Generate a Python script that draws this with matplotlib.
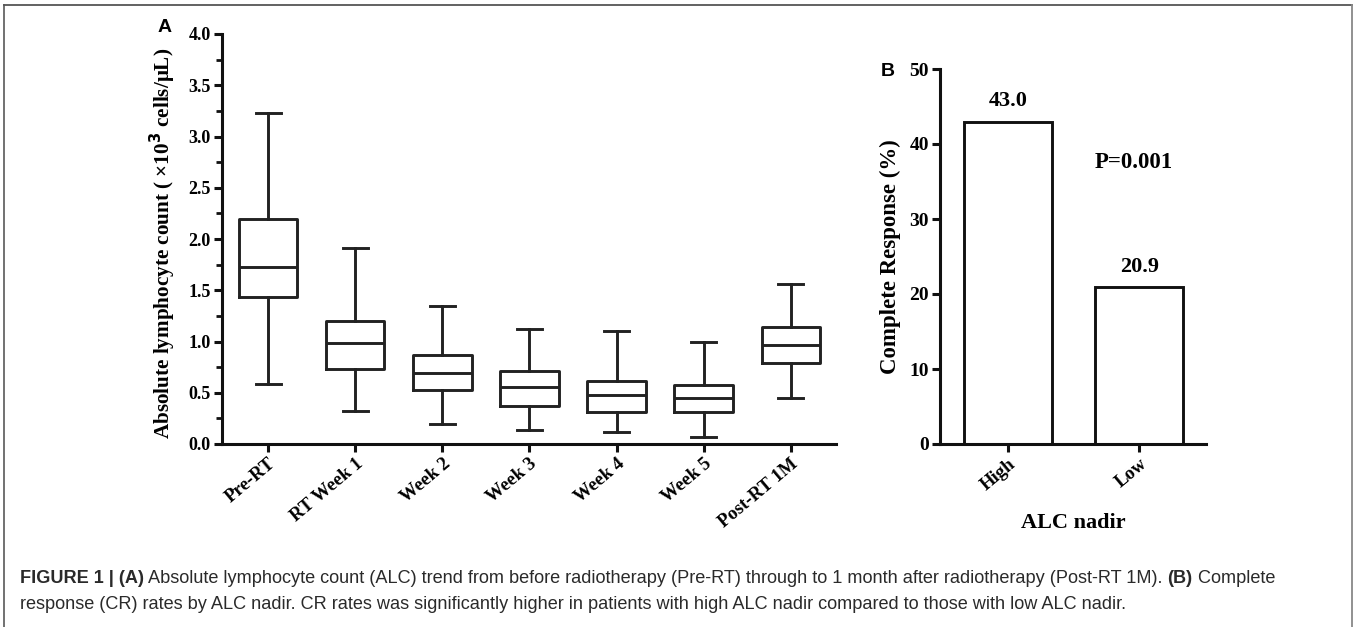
import matplotlib
matplotlib.use("Agg")
import matplotlib.pyplot as plt
from matplotlib.ticker import MultipleLocator

# ---- data ----
timepoints = ["Pre-RT", "RT Week 1", "Week 2", "Week 3", "Week 4", "Week 5", "Post-RT 1M"]
whislo = [0.585, 0.325, 0.195, 0.133, 0.115, 0.065, 0.445]
q1     = [1.43, 0.734, 0.526, 0.367, 0.313, 0.309, 0.793]
med    = [1.722, 0.988, 0.692, 0.556, 0.478, 0.445, 0.965]
q3     = [2.197, 1.199, 0.868, 0.708, 0.61, 0.575, 1.14]
whishi = [3.23, 1.914, 1.345, 1.124, 1.099, 0.991, 1.56]

nadir_groups = ["High", "Low"]
cr_rates = [43.0, 20.9]
p_text = "P=0.001"

W, H = 1359, 627
fig = plt.figure(figsize=(W / 100, H / 100), dpi=100)
serif = ["Liberation Serif", "DejaVu Serif"]
sans = ["Liberation Sans", "DejaVu Sans"]
lc = "#222222"
rot = 40

# ---- Panel A ----
axA = fig.add_axes([222 / W, 1 - 444 / H, (836 - 222) / W, (444 - 34) / H])
stats = []
for i in range(len(timepoints)):
    stats.append(dict(whislo=whislo[i], q1=q1[i], med=med[i], q3=q3[i],
                      whishi=whishi[i], fliers=[], label=timepoints[i]))
lw = 2.1
axA.bxp(stats, positions=range(len(timepoints)), widths=0.67, showfliers=False,
        boxprops=dict(color=lc, linewidth=lw),
        medianprops=dict(color=lc, linewidth=lw),
        whiskerprops=dict(color=lc, linewidth=lw),
        capprops=dict(color=lc, linewidth=lw), capwidths=0.29)
axA.set_xlim(-0.53, 6.52)
yt = [i * 0.5 for i in range(9)]
axA.set_yticks(yt)
axA.set_yticklabels([f"{v:.1f}" for v in yt], fontfamily=serif,
                    fontweight="bold", fontsize=13)
axA.yaxis.set_minor_locator(MultipleLocator(0.25))
axA.set_ylim(0, 4.0)
axA.set_xticks(range(len(timepoints)))
axA.set_xticklabels(timepoints, rotation=rot, ha="right", va="top",
                    rotation_mode="anchor", fontfamily=serif, fontweight="bold",
                    fontsize=13.5)
axA.set_ylabel("Absolute lymphocyte count ( ×10$^{\\mathbf{3}}$ cells/μL)",
               fontfamily=serif, fontweight="bold", fontsize=15.2, labelpad=5)
axA.yaxis.set_label_coords(-0.072, 0.49)
for s in ["top", "right"]:
    axA.spines[s].set_visible(False)
for s in ["left", "bottom"]:
    axA.spines[s].set_linewidth(2.2)
    axA.spines[s].set_color("#111111")
axA.tick_params(axis="both", which="major", length=6, width=2.2, color="#111111", pad=2)
axA.tick_params(axis="y", which="minor", length=4, width=2.0, color="#111111")
axA.tick_params(axis="x", which="minor", length=0)

# ---- Panel B ----
axB = fig.add_axes([940 / W, 1 - 444 / H, (1206 - 940) / W, (444 - 69) / H])
axB.bar(range(len(nadir_groups)), cr_rates, width=0.67, color="white",
        edgecolor="#111111", linewidth=2.1)
axB.set_xlim(-0.52, 1.51)
axB.set_ylim(0, 50)
axB.set_yticks(range(0, 51, 10))
axB.set_yticklabels([str(v) for v in range(0, 51, 10)], fontfamily=serif,
                    fontweight="bold", fontsize=14)
axB.set_xticks(range(len(nadir_groups)))
axB.set_xticklabels(nadir_groups, rotation=rot, ha="right", va="top",
                    rotation_mode="anchor", fontfamily=serif, fontweight="bold",
                    fontsize=13.5)
axB.set_ylabel("Complete Response (%)", fontfamily=serif, fontweight="bold",
               fontsize=16.5, labelpad=6)
axB.set_xlabel("ALC nadir", fontfamily=serif, fontweight="bold", fontsize=16,
               labelpad=14)
for s in ["top", "right"]:
    axB.spines[s].set_visible(False)
for s in ["left", "bottom"]:
    axB.spines[s].set_linewidth(2.2)
    axB.spines[s].set_color("#111111")
axB.tick_params(axis="both", which="major", length=6, width=2.2, color="#111111", pad=2)
for i, v in enumerate(cr_rates):
    axB.text(i, v + 1.4, f"{v:.1f}", ha="center", va="bottom", fontfamily=serif,
             fontweight="bold", fontsize=16)
axB.text(0.96, 37.5, p_text, ha="center", va="center", fontfamily=serif,
         fontweight="bold", fontsize=16.5)

# panel letters
fig.text(165 / W, 1 - 28 / H, "A", ha="center", va="center", fontfamily=sans,
         fontweight="bold", fontsize=14)
fig.text(888 / W, 1 - 71 / H, "B", ha="center", va="center", fontfamily=sans,
         fontweight="bold", fontsize=14)

# frame
fig.add_artist(plt.Line2D([4 / W, 4 / W], [0, 1 - 4.5 / H], transform=fig.transFigure,
                          color="#666666", linewidth=1.3))
fig.add_artist(plt.Line2D([4 / W, 1352 / W], [1 - 4.5 / H, 1 - 4.5 / H],
                          transform=fig.transFigure, color="#555555", linewidth=1.3))
fig.add_artist(plt.Line2D([1352 / W, 1352 / W], [0, 1 - 4.5 / H],
                          transform=fig.transFigure, color="#888888", linewidth=1.3))

# caption with mixed weights
cap_lines = [
    [("FIGURE 1 | (A)", "bold"),
     (" Absolute lymphocyte count (ALC) trend from before radiotherapy (Pre-RT) through to 1 month after radiotherapy (Post-RT 1M). ", "normal"),
     ("(B)", "bold"), (" Complete", "normal")],
    [("response (CR) rates by ALC nadir. CR rates was significantly higher in patients with high ALC nadir compared to those with low ALC nadir.", "normal")],
]
cap_y = [1 - 583 / H, 1 - 609 / H]
fig.canvas.draw()
renderer = fig.canvas.get_renderer()
for line, y in zip(cap_lines, cap_y):
    x = 20 / W
    for txt, wt in line:
        t = fig.text(x, y, txt, ha="left", va="baseline", fontfamily=sans,
                     fontweight=wt, fontsize=13.1, color="#2a2a2a")
        bb = t.get_window_extent(renderer=renderer)
        x += bb.width / W

fig.savefig("out.png", dpi=100)
